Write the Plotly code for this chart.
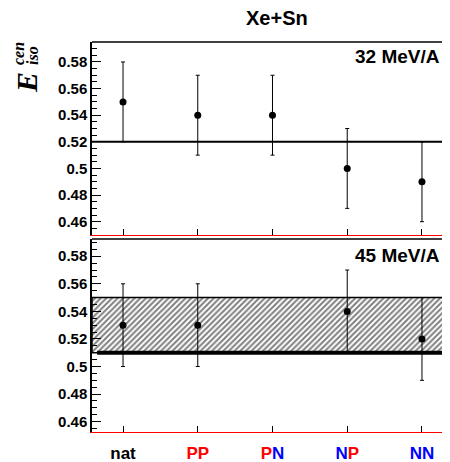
import plotly.graph_objects as go

categories = ["nat", "PP", "PN", "NP", "NN"]
tick_labels = [
    "nat",
    "<span style='color:#ff0000'>PP</span>",
    "<span style='color:#ff0000'>P</span><span style='color:#0000ff'>N</span>",
    "<span style='color:#0000ff'>N</span><span style='color:#ff0000'>P</span>",
    "<span style='color:#0000ff'>NN</span>",
]
vals_32 = [0.55, 0.54, 0.54, 0.50, 0.49]
err_32 = [0.03, 0.03, 0.03, 0.03, 0.03]
vals_45 = [0.53, 0.53, None, 0.54, 0.52]
err_45 = [0.03, 0.03, 0.0, 0.03, 0.03]
ref_32 = 0.52
band_45 = [0.51, 0.55]

xpos = list(range(len(categories)))

# page body has an 8px margin: figure is drawn from (8, 8)
OFF = 8
W, H = 450 - OFF, 462 - OFF
L, R, T, B = 92 - OFF, 0, 42 - OFF, H - (432 - OFF)
PH = H - T - B
PW = W - L - R
XR = [-0.415, 4.375]

fig = go.Figure()

# hatched band (bottom panel)
fig.add_trace(go.Scatter(
    x=[XR[0], XR[1], XR[1], XR[0], XR[0]],
    y=[band_45[0], band_45[0], band_45[1], band_45[1], band_45[0]],
    fill="toself", mode="lines",
    line=dict(color="black", width=1.5),
    fillcolor="white",
    fillpattern=dict(shape="/", fgcolor="black", bgcolor="white", size=4, solidity=0.5),
    xaxis="x", yaxis="y", showlegend=False, hoverinfo="skip"))

fig.add_trace(go.Scatter(
    x=[XR[0] + 0.07, XR[1]], y=[band_45[0], band_45[0]], mode="lines",
    line=dict(color="black", width=4), xaxis="x", yaxis="y", showlegend=False))

fig.add_trace(go.Scatter(
    x=[XR[0], XR[1]], y=[ref_32, ref_32], mode="lines",
    line=dict(color="black", width=2), xaxis="x2", yaxis="y2", showlegend=False))

fig.add_trace(go.Scatter(
    x=xpos, y=vals_32, mode="markers",
    marker=dict(color="black", size=7),
    error_y=dict(type="data", array=err_32, color="black", thickness=1, width=2),
    xaxis="x2", yaxis="y2", showlegend=False))

fig.add_trace(go.Scatter(
    x=xpos, y=vals_45, mode="markers",
    marker=dict(color="black", size=7),
    error_y=dict(type="data", array=err_45, color="black", thickness=1, width=2),
    xaxis="x", yaxis="y", showlegend=False))


def py(y):
    # reference-pixel y -> paper fraction
    return (H - B - (y - OFF)) / PH


def px(x):
    return (x - OFF - L) / PW


top_dom = [py(235), 1.0]
bot_dom = [0.0, py(239)]

xcommon = dict(range=XR, showgrid=False, zeroline=False, showline=True,
               linecolor="#ff0000", linewidth=1, ticks="inside", ticklen=6,
               tickcolor="black", tickwidth=1, tickvals=xpos)
ycommon = dict(showgrid=False, zeroline=False, showline=True, linecolor="black",
               linewidth=1.5, ticks="inside", ticklen=9, tickcolor="black",
               tickwidth=1, dtick=0.02, tick0=0.0,
               minor=dict(ticks="inside", ticklen=5, dtick=0.005, tickcolor="black", tickwidth=1),
               tickfont=dict(size=15, family="Liberation Sans", color="black", weight="bold"))

fig.update_layout(
    width=W, height=H, margin=dict(l=L, r=R, t=T, b=B),
    plot_bgcolor="white", paper_bgcolor="white",
    xaxis=dict(**xcommon, anchor="y", ticktext=tick_labels, ticklabelstandoff=6,
               tickfont=dict(size=17, family="Liberation Sans", color="black", weight="bold")),
    xaxis2=dict(**xcommon, anchor="y2", showticklabels=False),
    yaxis=dict(**ycommon, domain=bot_dom, range=[0.4525, 0.5925], anchor="x"),
    yaxis2=dict(**ycommon, domain=top_dom, range=[0.45, 0.595], anchor="x2"),
)

# top frame lines
for yr in ["y domain", "y2 domain"]:
    fig.add_shape(type="line", xref="paper", yref=yr, x0=0, x1=1, y0=1, y1=1,
                  line=dict(color="black", width=1.5))

ann_font = dict(family="Liberation Sans", size=19, color="black", weight="bold")
common = dict(xref="paper", yref="paper", showarrow=False, xanchor="center", yanchor="middle")
fig.add_annotation(text="Xe+Sn", x=px(277), y=py(18), **common,
                   font=dict(family="Liberation Sans", size=20, color="black", weight="bold"))
fig.add_annotation(text="32 MeV/A", x=px(397), y=py(57), **common, font=ann_font)
fig.add_annotation(text="45 MeV/A", x=px(397), y=py(255), **common, font=ann_font)

serif = "Liberation Serif"
fig.add_annotation(text="<i>E</i>", x=px(27), y=py(83), textangle=-90, **common,
                   font=dict(family=serif, size=30, color="black", weight="bold"))
fig.add_annotation(text="<i>cen</i>", x=px(18), y=py(54), textangle=-90, **common,
                   font=dict(family=serif, size=16, color="black", weight="bold"))
fig.add_annotation(text="<i>iso</i>", x=px(33), y=py(56), textangle=-90, **common,
                   font=dict(family=serif, size=16, color="black", weight="bold"))

fig.write_html("out.html")
